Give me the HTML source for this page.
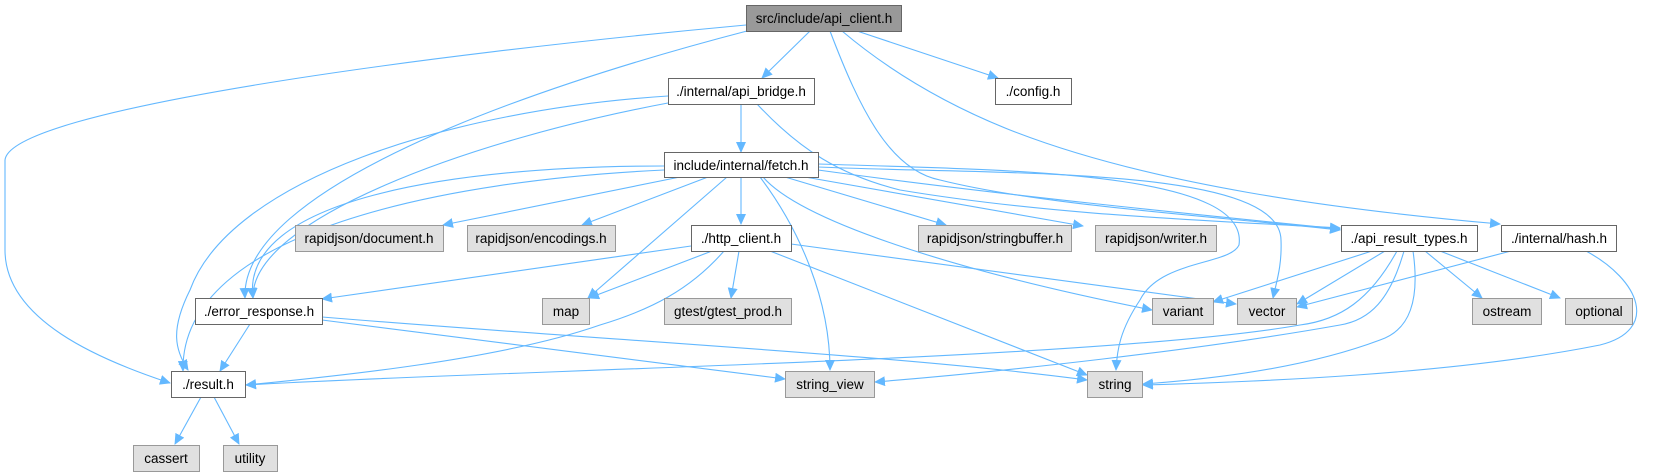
<!DOCTYPE html>
<html><head><meta charset="utf-8"><style>
html,body{margin:0;padding:0;background:#fff;}
svg{display:block;}
text{font-family:"Liberation Sans",Arial,sans-serif;font-size:13.5px;fill:#000;text-anchor:middle;}
.n rect{fill:#fff;stroke:#666;stroke-width:1;}
.g rect{fill:#e0e0e0;stroke:#999;stroke-width:1;}
.e{fill:none;stroke:#63b8ff;stroke-width:1.1;}
</style></head><body>
<svg width="1656" height="476" viewBox="0 0 1656 476" xmlns="http://www.w3.org/2000/svg">
<defs><marker id="a" markerWidth="11" markerHeight="10" refX="10" refY="5" orient="auto" markerUnits="userSpaceOnUse"><path d="M0,0 L11,5 L0,10 Z" fill="#63b8ff"/></marker></defs>
<g marker-end="url(#a)">
<!-- api_client -->
<path class="e" d="M746,25 C420,55 10,110 5,160 L5,250 C5,320 100,360 170,383"/>
<path class="e" d="M747,31 C520,90 240,190 245,298"/>
<path class="e" d="M810,31 L762,78"/>
<path class="e" d="M857,31 L998,78"/>
<path class="e" d="M830,31 C860,110 890,170 940,180 C1040,205 1200,215 1340,230"/>
<path class="e" d="M842,31 C900,80 960,110 1010,130 C1150,185 1340,210 1500,224"/>
<!-- api_bridge -->
<path class="e" d="M741,104 L741,152"/>
<path class="e" d="M668,96 C450,110 230,180 190,290 C170,330 175,350 188,370"/>
<path class="e" d="M668,103 C470,140 250,220 253,298"/>
<path class="e" d="M757,104 C800,150 840,175 900,190 C1050,215 1200,220 1340,228"/>
<!-- fetch -->
<path class="e" d="M664,166 C450,166 240,200 253,298"/>
<path class="e" d="M664,170 C450,180 180,230 183,371"/>
<path class="e" d="M680,177 L443,225"/>
<path class="e" d="M708,177 L582,225"/>
<path class="e" d="M727,177 L588,298"/>
<path class="e" d="M741,177 L741,224"/>
<path class="e" d="M760,177 C800,230 830,300 830,370"/>
<path class="e" d="M763,177 C800,220 950,270 1152,310"/>
<path class="e" d="M785,177 L946,225"/>
<path class="e" d="M805,177 L1083,226"/>
<path class="e" d="M818,170 C1000,195 1200,215 1340,229"/>
<path class="e" d="M818,164 C1000,170 1250,170 1239,245 C1230,265 1160,260 1140,300 C1120,330 1117,350 1116,370"/>
<path class="e" d="M818,167 C1000,175 1280,165 1281,240 C1282,265 1277,280 1273,298"/>
<!-- http_client -->
<path class="e" d="M691,246 L322,299"/>
<path class="e" d="M712,251 L589,298"/>
<path class="e" d="M739,251 L731,298"/>
<path class="e" d="M724,251 C690,290 650,310 600,325 C500,360 330,377 246,385"/>
<path class="e" d="M791,244 L1236,304"/>
<path class="e" d="M770,251 L1087,375"/>
<!-- error_response -->
<path class="e" d="M250,324 L220,371"/>
<path class="e" d="M322,320 L785,379"/>
<path class="e" d="M322,317 C600,340 900,355 1087,380"/>
<!-- result -->
<path class="e" d="M201,397 L175,444"/>
<path class="e" d="M214,397 L239,444"/>
<!-- api_result_types -->
<path class="e" d="M1372,251 L1213,302"/>
<path class="e" d="M1385,251 L1297,304"/>
<path class="e" d="M1397,251 C1370,300 1340,320 1300,325 C1100,360 500,370 246,385"/>
<path class="e" d="M1404,251 C1390,300 1370,320 1340,325 C1200,350 1000,372 875,382"/>
<path class="e" d="M1413,251 C1420,300 1410,330 1380,340 C1300,370 1200,380 1143,384"/>
<path class="e" d="M1425,251 L1482,298"/>
<path class="e" d="M1440,251 L1560,298"/>
<!-- hash -->
<path class="e" d="M1511,251 L1297,307"/>
<path class="e" d="M1586,251 C1640,280 1660,330 1600,345 C1450,375 1250,382 1143,385"/>
</g>
<!-- nodes -->
<g><rect x="746.5" y="5.5" width="155" height="26" fill="#999" stroke="#666"/><text x="824" y="23">src/include/api_client.h</text></g>
<g class="n"><rect x="668.5" y="78.5" width="146" height="26"/><text x="741" y="96">./internal/api_bridge.h</text></g>
<g class="n"><rect x="995.5" y="78.5" width="76" height="26"/><text x="1033" y="96">./config.h</text></g>
<g class="n"><rect x="664.5" y="152.5" width="154" height="25"/><text x="741" y="170">include/internal/fetch.h</text></g>
<g class="g"><rect x="295.5" y="225.5" width="148" height="26"/><text x="369" y="243">rapidjson/document.h</text></g>
<g class="g"><rect x="467.5" y="225.5" width="148" height="26"/><text x="541" y="243">rapidjson/encodings.h</text></g>
<g class="n"><rect x="691.5" y="225.5" width="100" height="26"/><text x="741" y="243">./http_client.h</text></g>
<g class="g"><rect x="918.5" y="225.5" width="153" height="26"/><text x="995" y="243">rapidjson/stringbuffer.h</text></g>
<g class="g"><rect x="1095.5" y="225.5" width="121" height="26"/><text x="1156" y="243">rapidjson/writer.h</text></g>
<g class="n"><rect x="1341.5" y="225.5" width="136" height="26"/><text x="1409" y="243">./api_result_types.h</text></g>
<g class="n"><rect x="1501.5" y="225.5" width="115" height="26"/><text x="1559" y="243">./internal/hash.h</text></g>
<g class="n"><rect x="195.5" y="298.5" width="127" height="26"/><text x="259" y="316">./error_response.h</text></g>
<g class="g"><rect x="542.5" y="298.5" width="47" height="26"/><text x="566" y="316">map</text></g>
<g class="g"><rect x="664.5" y="298.5" width="127" height="26"/><text x="728" y="316">gtest/gtest_prod.h</text></g>
<g class="g"><rect x="1152.5" y="298.5" width="61" height="26"/><text x="1183" y="316">variant</text></g>
<g class="g"><rect x="1237.5" y="298.5" width="59" height="26"/><text x="1267" y="316">vector</text></g>
<g class="g"><rect x="1472.5" y="298.5" width="69" height="26"/><text x="1507" y="316">ostream</text></g>
<g class="g"><rect x="1565.5" y="298.5" width="67" height="26"/><text x="1599" y="316">optional</text></g>
<g class="n"><rect x="171.5" y="371.5" width="74" height="26"/><text x="208" y="389">./result.h</text></g>
<g class="g"><rect x="785.5" y="371.5" width="89" height="26"/><text x="830" y="389">string_view</text></g>
<g class="g"><rect x="1087.5" y="371.5" width="55" height="26"/><text x="1115" y="389">string</text></g>
<g class="g"><rect x="133.5" y="445.5" width="66" height="26"/><text x="166" y="463">cassert</text></g>
<g class="g"><rect x="223.5" y="445.5" width="54" height="26"/><text x="250" y="463">utility</text></g>
</svg>
</body></html>
